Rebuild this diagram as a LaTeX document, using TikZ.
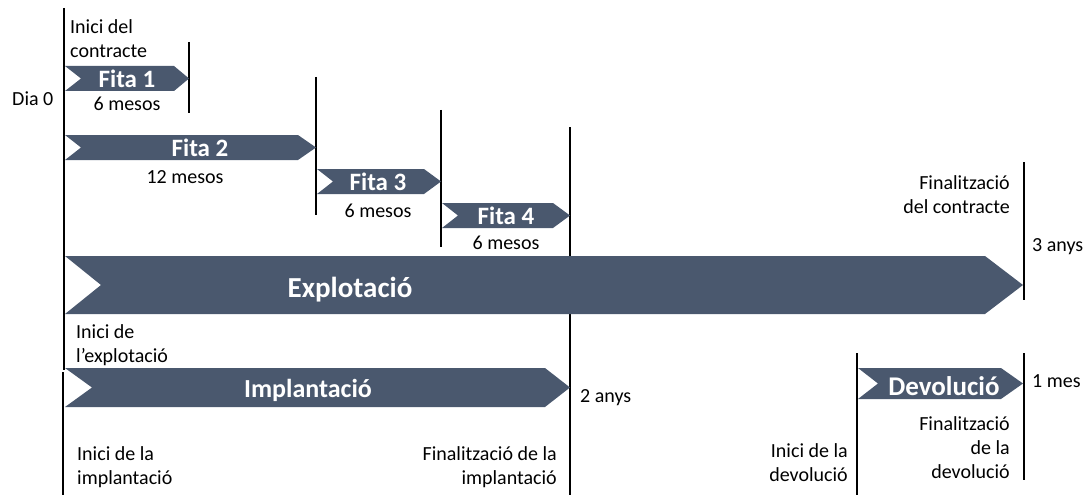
\documentclass[tikz,border=0pt]{standalone}
\usepackage{fontspec}
\setmainfont{Carlito}
\usepackage{tikz}
\usetikzlibrary{positioning,calc}
\definecolor{slate}{HTML}{4A586E}
\tikzset{
  milestone/.style={line width=2.7pt, black},
  chev/.style={fill=slate, draw=none},
  chevtext/.style={text=white, font=\bfseries\fontsize{#1}{#1}\selectfont, inner sep=0pt},
  lbl/.style={font=\fontsize{20}{24}\selectfont, inner sep=0pt}
}

\begin{document}
\begin{tikzpicture}[x=1pt, y=-1pt]
    \useasboundingbox (0,0) rectangle (1088,495);
    % milestone lines
    \draw[milestone] (64,8) -- (64,370);
    \draw[milestone] (63,372) -- (63,495);
    \draw[milestone] (189,42) -- (189,113);
    \draw[milestone] (316,77) -- (316,215);
    \draw[milestone] (441,110) -- (441,247);
    \draw[milestone] (570,127) -- (570,495);
    \draw[milestone] (1024,162) -- (1024,300);
    \draw[milestone] (857,353) -- (857,495);
    \draw[milestone] (1024,353) -- (1024,480);
    % chevrons
    \fill[chev] (65,66) -- (174,66) -- (189,78.5) -- (174,91) -- (65,91) -- (81,78.5) -- cycle;
    \fill[chev] (65,135) -- (298,135) -- (316,147.5) -- (298,160) -- (65,160) -- (81,147.5) -- cycle;
    \fill[chev] (317,169) -- (424,169) -- (441,181.5) -- (424,194) -- (317,194) -- (333,181.5) -- cycle;
    \fill[chev] (442,203) -- (553,203) -- (570,215.5) -- (553,228) -- (442,228) -- (458,215.5) -- cycle;
    \fill[chev] (65,256) -- (985,256) -- (1023,285) -- (985,314) -- (65,314) -- (101,285) -- cycle;
    \fill[chev] (65,368) -- (545,368) -- (570,387.5) -- (545,407) -- (65,407) -- (92,387.5) -- cycle;
    \fill[chev] (858,368) -- (1001,368) -- (1023,383.5) -- (1001,399) -- (858,399) -- (878,383.5) -- cycle;
    % chevron labels
    \node[chevtext=25] (fita1) at (127,79) {Fita 1};
    \node[chevtext=25] (fita2) at (200,148) {Fita 2};
    \node[chevtext=25] (fita3) at (378,182) {Fita 3};
    \node[chevtext=25] (fita4) at (506,216) {Fita 4};
    \node[chevtext=29] (explot) at (350,290) {Explotació};
    \node[chevtext=26] (implant) at (308,390) {Implantació};
    \node[chevtext=27] (devol) at (944,386) {Devolució};
    % durations
    \node[lbl] (dur1) at (127,104) {6 mesos};
    \node[lbl] (dur2) at (185,177) {12 mesos};
    \node[lbl] (dur3) at (378,211) {6 mesos};
    \node[lbl] (dur4) at (506,243) {6 mesos};
    \node[lbl, anchor=west] (dia0) at (12,99) {Dia 0};
    \node[lbl, anchor=west] (anys2) at (580,398) {2 anys};
    \node[lbl, anchor=west] (anys3) at (1032,247) {3 anys};
    \node[lbl, anchor=west] (mes1) at (1032,381) {1 mes};
    % event texts
    \node[lbl, anchor=base west, align=left] (inicicon) at (70,58) {Inici del\\contracte};
    \node[lbl, anchor=base west, align=left] (iniciexp) at (76,362) {Inici de\\l’explotació};
    \node[lbl, anchor=base west, align=left] (iniciimp) at (77,484) {Inici de la\\implantació};
    \node[lbl, anchor=base east, align=right] (fiimp) at (557,484) {Finalització de la\\implantació};
    \node[lbl, anchor=base east, align=right] (inicidev) at (848,481) {Inici de la\\devolució};
    \node[lbl, anchor=base east, align=right] (fidev) at (1010,478) {Finalització\\de la\\devolució};
    \node[lbl, anchor=base east, align=right] (ficon) at (1010,213) {Finalització\\del contracte};
\end{tikzpicture}
\end{document}
